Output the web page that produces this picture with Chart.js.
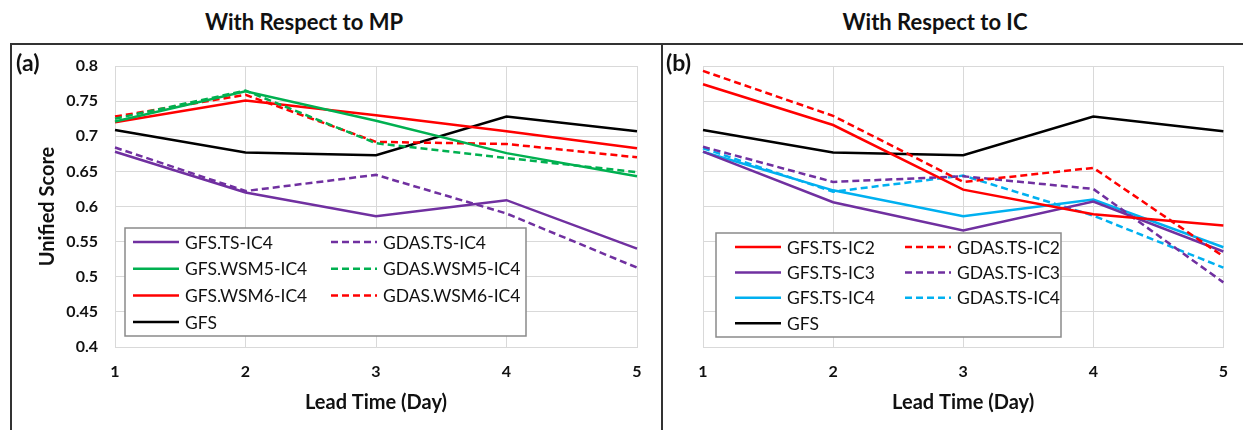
<!DOCTYPE html>
<html>
<head>
<meta charset="utf-8">
<script src="https://cdn.jsdelivr.net/npm/chart.js@4.4.1/dist/chart.umd.min.js"></script>
<style>
  body { margin: 0; background: #fff; font-family: Lato, sans-serif; }
  #wrap { position: relative; width: 1243px; height: 430px; overflow: hidden; }
  .head { position: absolute; top: 8px; font-weight: bold; font-size: 22px; color: #111; white-space: nowrap; transform: translateX(-50%); }
  .tag { position: absolute; top: 48px; font-weight: bold; font-size: 23px; color: #111; }
  #topline { position: absolute; left: 10px; right: 0; top: 43px; height: 2px; background: #333; }
  #leftline { position: absolute; left: 10px; top: 43px; bottom: 0; width: 2px; background: #333; }
  #midline { position: absolute; left: 661px; top: 43px; bottom: 0; width: 2px; background: #333; }
  canvas { position: absolute; }
</style>
</head>
<body>
<div id="wrap">
  <div class="head" style="left:304px">With Respect to MP</div>
  <div class="head" style="left:935px">With Respect to IC</div>
  <div id="topline"></div>
  <div id="leftline"></div>
  <div id="midline"></div>
  <div style="position:absolute;left:12px;top:45px;width:648px;height:385px"><canvas id="chartA"></canvas></div>
  <div style="position:absolute;left:663px;top:45px;width:580px;height:385px"><canvas id="chartB"></canvas></div>
  <div class="tag" style="left:16px">(a)</div>
  <div class="tag" style="left:666px">(b)</div>
</div>
<script>
// lead time (days)
const days = ['1', '2', '3', '4', '5'];

// panel (a): with respect to MP
const gfs = [0.709, 0.677, 0.673, 0.728, 0.707];
const gfsTsIc4 = [0.678, 0.620, 0.586, 0.609, 0.540];
const gdasTsIc4 = [0.684, 0.622, 0.645, 0.590, 0.513];
const gfsWsm5Ic4 = [0.721, 0.764, 0.722, 0.676, 0.643];
const gdasWsm5Ic4 = [0.725, 0.765, 0.690, 0.669, 0.649];
const gfsWsm6Ic4 = [0.720, 0.751, 0.730, 0.707, 0.683];
const gdasWsm6Ic4 = [0.728, 0.759, 0.692, 0.689, 0.670];

// panel (b): with respect to IC
const gfsTsIc2 = [0.774, 0.716, 0.624, 0.589, 0.573];
const gdasTsIc2 = [0.793, 0.729, 0.635, 0.655, 0.529];
const gfsTsIc3 = [0.678, 0.606, 0.566, 0.607, 0.536];
const gdasTsIc3 = [0.685, 0.635, 0.643, 0.625, 0.492];
const gfsTsIc4b = [0.678, 0.623, 0.586, 0.610, 0.542];
const gdasTsIc4b = [0.683, 0.621, 0.644, 0.587, 0.513];

const yMin = 0.4, yMax = 0.8, yStep = 0.05;

const purple = '#7030A0', green = '#00B050', red = '#FF0000', cyan = '#00B0F0', black = '#000000';
const dash = [7, 4];

function ds(label, data, color, dashed) {
  return {
    label: label,
    data: data,
    borderColor: color,
    backgroundColor: color,
    borderWidth: 2.5,
    borderDash: dashed ? dash : [],
    pointRadius: 0,
    tension: 0,
    fill: false
  };
}

// legend box drawn inside the plot, two columns like Excel
const boxLegend = {
  id: 'boxLegend',
  afterDatasetsDraw(chart, args, opts) {
    const ctx = chart.ctx;
    const a = chart.chartArea;
    const x0 = a.left + opts.left, y0 = a.top + opts.top;
    ctx.save();
    ctx.fillStyle = '#fff';
    ctx.fillRect(x0, y0, opts.width, opts.height);
    ctx.strokeStyle = '#8a8a8a';
    ctx.lineWidth = 1.5;
    ctx.strokeRect(x0, y0, opts.width, opts.height);
    ctx.font = '17.5px Lato';
    ctx.textBaseline = 'middle';
    chart.data.datasets.forEach(function(d, i) {
      const col = i % 2, row = Math.floor(i / 2);
      const lx = x0 + opts.colX[col];
      const ly = y0 + opts.firstRow + row * opts.rowGap;
      ctx.strokeStyle = d.borderColor;
      ctx.lineWidth = 2.5;
      ctx.setLineDash(d.borderDash);
      ctx.beginPath();
      ctx.moveTo(lx, ly);
      ctx.lineTo(lx + 46, ly);
      ctx.stroke();
      ctx.setLineDash([]);
      ctx.fillStyle = '#111';
      ctx.fillText(d.label, lx + 52, ly + 1);
    });
    ctx.restore();
  }
};

const gridColor = '#d9d9d9';

function makeOptions(showY, legendOpts, padRight) {
  return {
    responsive: true,
    maintainAspectRatio: false,
    animation: false,
    layout: { padding: { left: 0, right: padRight, top: 21, bottom: 0 } },
    plugins: {
      legend: { display: false },
      tooltip: { enabled: false },
      boxLegend: legendOpts
    },
    scales: {
      x: {
        offset: false,
        grid: { color: gridColor, drawTicks: false },
        border: { color: gridColor },
        ticks: { color: '#111', font: { family: 'Lato', size: 16, weight: 'bold' }, padding: 15, maxRotation: 0 },
        title: { display: true, text: 'Lead Time (Day)', color: '#111', font: { family: 'Lato', size: 20, weight: 'bold' }, padding: { top: 0, bottom: 15 } },
        afterFit(scale) { scale.height = 83; }
      },
      y: {
        min: yMin,
        max: yMax,
        grid: { color: gridColor, drawTicks: false },
        border: { color: gridColor },
        ticks: {
          display: showY,
          stepSize: yStep,
          color: '#111',
          font: { family: 'Lato', size: 16, weight: 'bold' },
          padding: 17,
          callback: function(v) { return +v.toFixed(2); }
        },
        title: { display: showY, text: 'Unified Score', color: '#111', font: { family: 'Lato', size: 20, weight: 'bold' }, padding: { top: 24, bottom: 0 } },
        afterFit(scale) {
          scale.width = showY ? 103 : 40;
          // keep the plot top fixed, the tick padding should not push it down
          scale.paddingTop = 0;
          scale.paddingBottom = 0;
        }
      }
    }
  };
}

new Chart(document.getElementById('chartA'), {
  type: 'line',
  data: {
    labels: days,
    datasets: [
      ds('GFS.TS-IC4', gfsTsIc4, purple, false),
      ds('GDAS.TS-IC4', gdasTsIc4, purple, true),
      ds('GFS.WSM5-IC4', gfsWsm5Ic4, green, false),
      ds('GDAS.WSM5-IC4', gdasWsm5Ic4, green, true),
      ds('GFS.WSM6-IC4', gfsWsm6Ic4, red, false),
      ds('GDAS.WSM6-IC4', gdasWsm6Ic4, red, true),
      ds('GFS', gfs, black, false)
    ]
  },
  options: makeOptions(true, { left: 10, top: 162, width: 401, height: 108, colX: [8, 206], firstRow: 14, rowGap: 26.7 }, 23),
  plugins: [boxLegend]
});

new Chart(document.getElementById('chartB'), {
  type: 'line',
  data: {
    labels: days,
    datasets: [
      ds('GFS.TS-IC2', gfsTsIc2, red, false),
      ds('GDAS.TS-IC2', gdasTsIc2, red, true),
      ds('GFS.TS-IC3', gfsTsIc3, purple, false),
      ds('GDAS.TS-IC3', gdasTsIc3, purple, true),
      ds('GFS.TS-IC4', gfsTsIc4b, cyan, false),
      ds('GDAS.TS-IC4', gdasTsIc4b, cyan, true),
      ds('GFS', gfs, black, false)
    ]
  },
  options: makeOptions(false, { left: 13, top: 167, width: 345, height: 104, colX: [19, 189], firstRow: 14, rowGap: 25.4 }, 18),
  plugins: [boxLegend]
});
</script>
</body>
</html>
